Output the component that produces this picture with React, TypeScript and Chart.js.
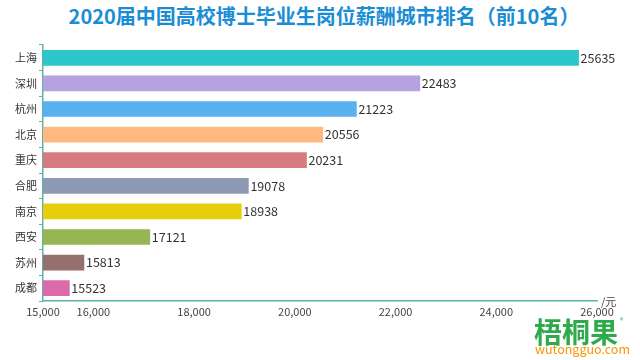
import React, { useEffect, useRef } from "react";
import { Chart, registerables } from "chart.js";

Chart.register(...registerables);

const cities = ["上海", "深圳", "杭州", "北京", "重庆", "合肥", "南京", "西安", "苏州", "成都"];
const salaries = [25635, 22483, 21223, 20556, 20231, 19078, 18938, 17121, 15813, 15523];
const barColors = ["#2EC7C9", "#B6A2DE", "#5AB1EF", "#FFB980", "#D87A80", "#8D98B3", "#E5CF0D", "#97B552", "#95706D", "#DC69AA"];
const xTicks = [15000, 16000, 18000, 20000, 22000, 24000, 26000];
const titleText = "2020届中国高校博士毕业生岗位薪酬城市排名（前10名）";
const FONT = '"Noto Sans CJK SC", "Noto Sans", sans-serif';

const valueLabels = {
  id: "valueLabels",
  afterDatasetsDraw(chart: any) {
    const ctx = chart.ctx;
    const meta = chart.getDatasetMeta(0);
    ctx.save();
    ctx.font = `12.5px ${FONT}`;
    ctx.fillStyle = "#333";
    ctx.textAlign = "left";
    ctx.textBaseline = "middle";
    meta.data.forEach((bar: any, i: number) => {
      ctx.fillText(String(salaries[i]), bar.x + 2, bar.y);
    });
    ctx.restore();
  },
};

export default function App() {
  const ref = useRef<HTMLCanvasElement>(null);
  useEffect(() => {
    if (!ref.current) return;
    const chart = new Chart(ref.current, {
      type: "bar",
      data: {
        labels: cities,
        datasets: [
          {
            data: salaries,
            backgroundColor: barColors,
            barThickness: 15,
            borderWidth: 0,
          },
        ],
      },
      options: {
        indexAxis: "y",
        animation: false,
        responsive: false,
        maintainAspectRatio: false,
        layout: { padding: { top: 45, right: 43, left: 0, bottom: 0 } },
        plugins: { legend: { display: false }, tooltip: { enabled: false }, title: { display: false } },
        scales: {
          x: {
            type: "linear",
            min: 15000,
            max: 26000,
            afterBuildTicks: (axis: any) => {
              axis.ticks = xTicks.map((v) => ({ value: v }));
            },
            afterFit: (axis: any) => {
              axis.height = 59;
            },
            grid: { display: false, drawTicks: false },
            border: { display: true, color: "#5FB3A6", width: 1.5 },
            ticks: {
              font: { size: 11, family: FONT },
              color: "#444",
              padding: 4,
              maxRotation: 0,
              autoSkip: false,
              callback: (v: any) => Number(v).toLocaleString("en-US"),
            },
          },
          y: {
            type: "category",
            afterFit: (axis: any) => {
              axis.width = 43;
            },
            grid: { display: true, drawOnChartArea: false, drawTicks: true, tickLength: 4, color: "#5FB3A6", offset: true },
            border: { display: true, color: "#5FB3A6", width: 1.5 },
            ticks: { font: { size: 11, family: FONT }, color: "#333", padding: 2 },
          },
        },
      },
      plugins: [valueLabels],
    });
    return () => chart.destroy();
  }, []);

  return (
    <div style={{ position: "fixed", left: 0, top: 0, width: 640, height: 360, background: "#fff", fontFamily: FONT }}>
      <div
        style={{
          position: "absolute",
          left: 4,
          top: 2,
          width: 640,
          textAlign: "center",
          fontSize: 20,
          fontWeight: "bold",
          color: "#1A8DD4",
          lineHeight: "28px",
          whiteSpace: "nowrap",
        }}
      >
        {titleText}
      </div>
      <canvas ref={ref} width={640} height={360} style={{ position: "absolute", left: 0, top: 0 }} />
      <div style={{ position: "absolute", left: 601, top: 293, fontSize: 11, color: "#444" }}>/元</div>
      <div
        style={{
          position: "absolute",
          left: 534,
          top: 315,
          fontSize: 28,
          fontWeight: "bold",
          color: "#2DAA4A",
          lineHeight: "32px",
          letterSpacing: 0,
          whiteSpace: "nowrap",
        }}
      >
        梧桐果
      </div>
      <div style={{ position: "absolute", left: 620, top: 315, fontSize: 7, color: "#2DAA4A" }}>®</div>
      <div style={{ position: "absolute", left: 535, top: 341, fontSize: 12.5, color: "#F39800", lineHeight: "15px", whiteSpace: "nowrap" }}>
        wutongguo.com
      </div>
    </div>
  );
}
